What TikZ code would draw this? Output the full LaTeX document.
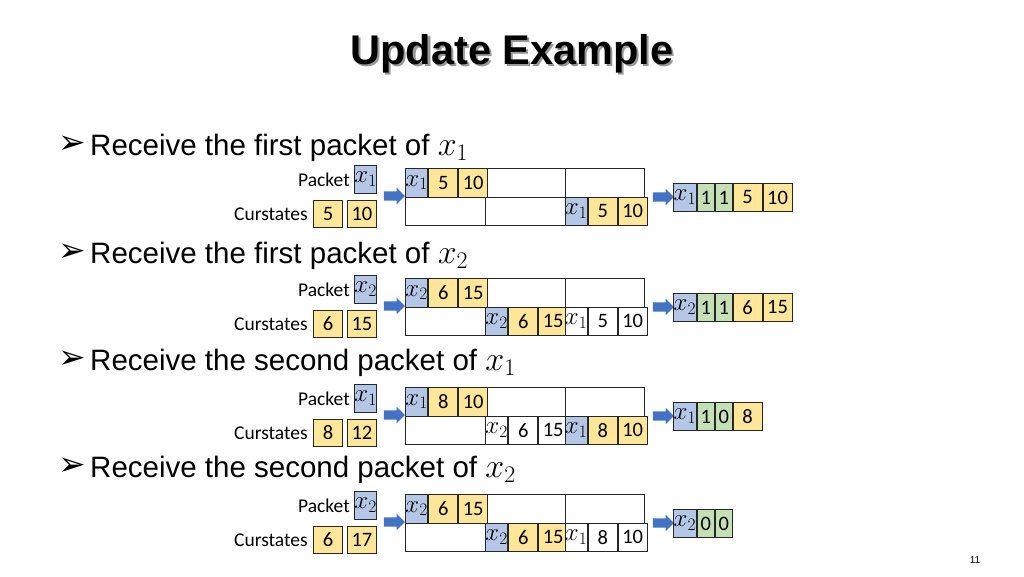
\RequirePackage{fix-cm}
\documentclass[tikz,border=0pt]{standalone}
\usepackage{fontspec}
\setmainfont{Liberation Sans}
\newfontfamily\calib{Carlito}
\newfontfamily\dejavu{DejaVu Sans}
\usetikzlibrary{shapes.arrows}
\definecolor{cblue}{HTML}{B4C7E7}
\definecolor{cyellow}{HTML}{FFE699}
\definecolor{cgreen}{HTML}{C5E0B4}
\definecolor{arrblue}{HTML}{4472C4}
\newcommand\xc[1]{{\fontsize{25}{25}\selectfont$x_{#1}$}}
\newcommand\xb[1]{{\fontsize{34}{34}\selectfont$x_{#1}$}}
\tikzset{
  cell/.style={draw=black!85, line width=0.9pt, inner sep=0pt, anchor=north west,
    minimum height=28pt, font=\calib\fontsize{20.5}{20.5}\selectfont},
  w22/.style={minimum width=22pt},
  w23/.style={minimum width=23pt},
  w17/.style={minimum width=17pt},
  w29/.style={minimum width=29pt},
  colv/.style={fill=cblue}, colx/.style={fill=cyellow},
  whtv/.style={fill=white}, whtx/.style={fill=white},
  gr/.style={fill=cgreen},
  bigcell/.style={draw=black!85, line width=0.9pt, inner sep=0pt, anchor=north west,
    minimum width=80pt, minimum height=28.5pt},
  barrow/.style={single arrow, fill=arrblue, draw=none, minimum height=21pt,
    minimum width=16pt, single arrow head extend=3.5pt, inner xsep=0pt, inner ysep=4.5pt},
  lbl/.style={font=\calib\fontsize{19.5}{20}\selectfont, inner sep=0pt},
  bul/.style={font=\dejavu\fontsize{33}{33}\selectfont, inner sep=0pt},
  btxt/.style={font=\fontsize{29.5}{30}\selectfont, inner sep=0pt, anchor=base west},
}
% row frame: #1 id, #2 y0, #3 packet var, #4 #5 curstates
\newcommand\rowframe[5]{%
  \node[lbl, anchor=east] (#1plbl) at (350,#2+12) {Packet};
  \node[lbl, anchor=east] (#1clbl) at (308,#2+46) {Curstates};
  \node[cell,w22,colv] (#1pk) at (354,#2-3) {\xc{#3}};
  \node[cell,w29,colx,minimum height=27pt] (#1cs1) at (313,#2+32) {#4};
  \node[cell,w29,colx,minimum height=27pt] (#1cs2) at (347,#2+32) {#5};
  \node[barrow] (#1arA) at (392,#2+28) {};
  \node[barrow] (#1arB) at (661,#2+29) {};
  \node[bigcell] (#1t11) at (405,#2) {};
  \node[bigcell,minimum width=79.5pt] (#1t12) at (485,#2) {};
  \node[bigcell,minimum width=79.5pt] (#1t13) at (564.5,#2) {};
  \node[bigcell] (#1t21) at (405,#2+28.5) {};
  \node[bigcell,minimum width=79.5pt] (#1t22) at (485,#2+28.5) {};
  \node[bigcell,minimum width=79.5pt] (#1t23) at (564.5,#2+28.5) {};
}
% triple: #1 name, #2 x, #3 y, #4 var index, #5 a, #6 b, #7 col/wht
\newcommand\trip[7]{%
  \node[cell,w22,#7v,minimum height=28.5pt] (#1v) at (#2,#3) {\xc{#4}};
  \node[cell,w29,#7x,minimum height=28.5pt] (#1a) at (#1v.north east) {#5};
  \node[cell,w29,#7x,minimum height=28.5pt] (#1b) at (#1a.north east) {#6};
}
\begin{document}
\begin{tikzpicture}[x=1pt,y=-1pt]
\fill[white] (0,0) rectangle (1024,576);
\useasboundingbox (0,0) rectangle (1024,576);

% title with shadow
\node[font=\bfseries\fontsize{41.5}{42}\selectfont, inner sep=0pt] (title) at (512,55)
  {\rlap{\hspace{2.2pt}\raisebox{-2.2pt}{\color{black!40}Update Example}}Update Example};

% bullets
\node[bul] (b1) at (72,145) {➢};
\node[btxt] (t1) at (90,155) {Receive the first packet of \xb{1}};
\node[bul] (b2) at (72,253) {➢};
\node[btxt] (t2) at (90,263) {Receive the first packet of \xb{2}};
\node[bul] (b3) at (72,360) {➢};
\node[btxt] (t3) at (90,370) {Receive the second packet of \xb{1}};
\node[bul] (b4) at (72,467) {➢};
\node[btxt] (t4) at (90,477) {Receive the second packet of \xb{2}};

% ---- row 1
\rowframe{r1}{168}{1}{5}{10}
\trip{r1u}{405}{168}{1}{5}{10}{col}
\trip{r1d}{564.5}{196.5}{1}{5}{10}{col}
\node[cell,w23,colv] (r1r1) at (673,183) {\xc{1}};
\node[cell,w17,gr] (r1r2) at (r1r1.north east) {1};
\node[cell,w17,gr] (r1r3) at (r1r2.north east) {1};
\node[cell,w29,colx] (r1r4) at (r1r3.north east) {5};
\node[cell,w29,colx] (r1r5) at (r1r4.north east) {10};

% ---- row 2
\rowframe{r2}{278}{2}{6}{15}
\trip{r2u}{405}{278}{2}{6}{15}{col}
\trip{r2m}{485}{306.5}{2}{6}{15}{col}
\trip{r2d}{564.5}{306.5}{1}{5}{10}{wht}
\node[cell,w23,colv] (r2r1) at (673,293) {\xc{2}};
\node[cell,w17,gr] (r2r2) at (r2r1.north east) {1};
\node[cell,w17,gr] (r2r3) at (r2r2.north east) {1};
\node[cell,w29,colx] (r2r4) at (r2r3.north east) {6};
\node[cell,w29,colx] (r2r5) at (r2r4.north east) {15};

% ---- row 3
\rowframe{r3}{387}{1}{8}{12}
\trip{r3u}{405}{387}{1}{8}{10}{col}
\trip{r3m}{485}{415.5}{2}{6}{15}{wht}
\trip{r3d}{564.5}{415.5}{1}{8}{10}{col}
\node[cell,w23,colv] (r3r1) at (673,402) {\xc{1}};
\node[cell,w17,gr] (r3r2) at (r3r1.north east) {1};
\node[cell,w17,gr] (r3r3) at (r3r2.north east) {0};
\node[cell,w29,colx] (r3r4) at (r3r3.north east) {8};

% ---- row 4
\rowframe{r4}{494}{2}{6}{17}
\trip{r4u}{405}{494}{2}{6}{15}{col}
\trip{r4m}{485}{522.5}{2}{6}{15}{col}
\trip{r4d}{564.5}{522.5}{1}{8}{10}{wht}
\node[cell,w23,colv] (r4r1) at (673,509) {\xc{2}};
\node[cell,w17,gr] (r4r2) at (r4r1.north east) {0};
\node[cell,w17,gr] (r4r3) at (r4r2.north east) {0};

% page number
\node[font=\fontsize{10}{10}\selectfont, inner sep=0pt] (pg) at (975,560) {11};
\end{tikzpicture}
\end{document}
